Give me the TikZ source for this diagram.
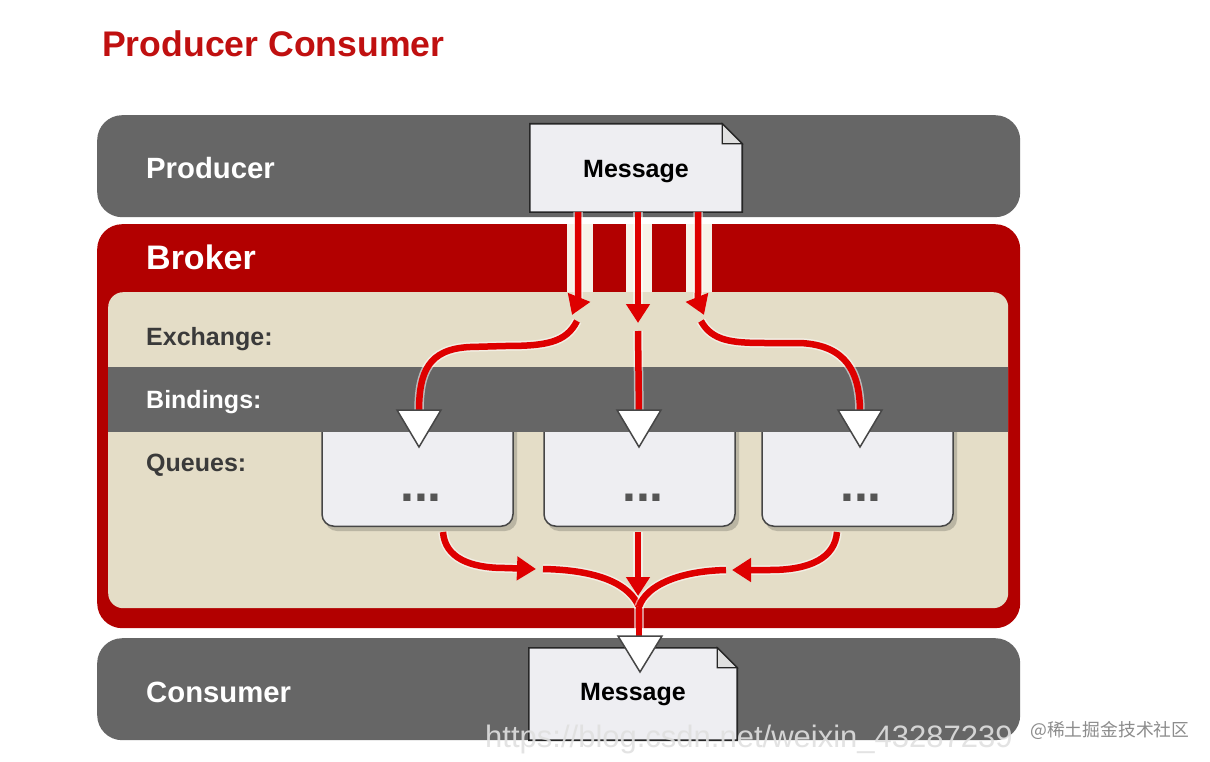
\documentclass[tikz,border=0pt]{standalone}
\usepackage{fontspec}
\setmainfont{Liberation Sans}
\newfontfamily\cjkfont{Noto Sans CJK SC}
\usetikzlibrary{arrows.meta}
\definecolor{bargray}{RGB}{102,102,102}
\definecolor{brokerred}{RGB}{178,0,0}
\definecolor{beige}{RGB}{228,221,199}
\definecolor{gaplight}{RGB}{246,242,232}
\definecolor{arrowred}{RGB}{222,0,0}
\definecolor{titlered}{RGB}{192,16,16}
\definecolor{boxfill}{RGB}{238,238,242}
\definecolor{darktext}{RGB}{58,58,58}
\definecolor{dotgray}{RGB}{85,85,85}
\definecolor{edgegray}{RGB}{70,70,70}
\tikzset{
  bar/.style={fill=bargray, draw=none, rounded corners=25pt, anchor=north west, inner sep=0pt},
  biglbl/.style={anchor=west, text=white, font=\bfseries\fontsize{29.3}{34}\selectfont, inner sep=0pt},
  lbl/.style={anchor=west, font=\bfseries\fontsize{25}{30}\selectfont, inner sep=0pt},
  msgbox/.style={draw=none, minimum width=#1, inner sep=0pt, font=\bfseries\fontsize{25}{30}\selectfont},
  msgshape/.style={fill=boxfill, draw=black!85, line width=1.6pt, line join=miter},
  fold/.style={fill=black!12, draw=black!85, line width=1.2pt},
  qbox/.style={fill=boxfill, draw=edgegray, line width=1.5pt, rounded corners=12pt, minimum width=191pt, minimum height=130pt, anchor=south, inner sep=0pt},
  qshadow/.style={fill=black, opacity=0.18, rounded corners=12pt},
  dots/.style={anchor=base, text=dotgray, font=\bfseries\fontsize{50}{50}\selectfont, inner sep=0pt},
  tri/.style={fill=white, draw=edgegray, line width=1.5pt, line join=miter},
  rline/.style={draw=arrowred, line width=6.5pt, line cap=butt,
     preaction={draw=white, draw opacity=0.55, line width=9.5pt}},
  rtip/.style={-{Triangle[width=23pt,length=19pt]}},
}
\begin{document}
\begin{tikzpicture}[x=1pt,y=-1pt]
\useasboundingbox (0,0) rectangle (1210,762);
\fill[white] (0,0) rectangle (1210,762);

% title
\node[anchor=west, text=titlered, font=\bfseries\fontsize{35.6}{40}\selectfont, inner sep=0pt] (title) at (102,44) {Producer Consumer};

% bars
\node[bar, minimum width=923pt, minimum height=102pt] (producer) at (97,115) {};
\node[bar, minimum width=923pt, minimum height=102pt] (consumer) at (97,638) {};
\node[biglbl] (prodlbl) at (146,168) {Producer};
\node[biglbl] (conslbl) at (146,692) {Consumer};

% broker
\node[fill=brokerred, rounded corners=25pt, minimum width=923pt, minimum height=404pt, anchor=north west, inner sep=0pt] (broker) at (97,224) {};
\node[anchor=west, text=white, font=\bfseries\fontsize{34}{40}\selectfont, inner sep=0pt] (brokerlbl) at (146,257) {Broker};
% light gaps in broker header
\fill[gaplight] (567,224) rectangle (593,293);
\fill[gaplight] (626,224) rectangle (652,293);
\fill[gaplight] (686,224) rectangle (712,293);
% inner beige area
\node[fill=beige, rounded corners=15pt, minimum width=900pt, minimum height=316pt, anchor=north west, inner sep=0pt] (inner) at (108,292) {};

% queue boxes (tops hidden under the bindings band)
\fill[qshadow] (325,400) rectangle (517,531);
\fill[qshadow] (547,400) rectangle (739,531);
\fill[qshadow] (765,400) rectangle (957,531);
\node[qbox] (q1) at (417.5,527) {};
\node[qbox] (q2) at (639.5,527) {};
\node[qbox] (q3) at (857.5,527) {};

% bindings band
\fill[bargray] (108,367) rectangle (1008,432);

\node[lbl, text=darktext] (exlbl) at (146,339) {Exchange:};
\node[lbl, text=white] (bilbl) at (146,402) {Bindings:};
\node[lbl, text=darktext] (qulbl) at (146,465) {Queues:};

\node[dots] (q1d) at (421,501) {...};
\node[dots] (q2d) at (643,501) {...};
\node[dots] (q3d) at (861,501) {...};

% top message
\node[msgbox=212pt, minimum height=88pt] (msgtop) at (636,168) {};
\draw[msgshape] (msgtop.north west) -- ([xshift=-20pt]msgtop.north east) -- ([yshift=-20pt]msgtop.north east) -- (msgtop.south east) -- (msgtop.south west) -- cycle;
\draw[fold] ([xshift=-20pt]msgtop.north east) -- ([xshift=-20pt,yshift=-20pt]msgtop.north east) -- ([yshift=-20pt]msgtop.north east) -- cycle;
\node[font=\bfseries\fontsize{25}{30}\selectfont, inner sep=0pt] (msgtoptxt) at (636,172) {Message};

% bottom message
\node[msgbox=208pt, minimum height=92pt] (msgbot) at (633,694) {};
\draw[msgshape] (msgbot.north west) -- ([xshift=-20pt]msgbot.north east) -- ([yshift=-20pt]msgbot.north east) -- (msgbot.south east) -- (msgbot.south west) -- cycle;
\draw[fold] ([xshift=-20pt]msgbot.north east) -- ([xshift=-20pt,yshift=-20pt]msgbot.north east) -- ([yshift=-20pt]msgbot.north east) -- cycle;
\node[font=\bfseries\fontsize{25}{30}\selectfont, inner sep=0pt] (msgbottxt) at (633,695) {Message};

% coordinates for arrows
\coordinate (s1) at (578,212);
\coordinate (s2) at (638,212);
\coordinate (s3) at (698,212);
\coordinate (e1) at (572,315);
\coordinate (e2) at (638,323);
\coordinate (e3) at (704,315);
\coordinate (b1) at (577,321);
\coordinate (b2) at (638,331);
\coordinate (b3) at (701,321);
\coordinate (t1) at (419,412);
\coordinate (t2) at (639,412);
\coordinate (t3) at (860,412);

% arrows from producer message to exchange
\draw[rline, rtip] (s1) -- (578,285) .. controls (578,300) .. (e1);
\draw[rline, rtip] (s2) -- (e2);
\draw[rline, rtip] (s3) -- (698,285) .. controls (698,300) .. (e3);

% exchange to bindings
\draw[rline] (b1) .. controls (566,343) and (545,346) .. (505,346) -- (470,347) .. controls (428,349) and (419,372) .. (t1);
\draw[rline] (b2) -- (t2);
\draw[rline] (b3) .. controls (712,341) and (732,343) .. (765,343) -- (800,343) .. controls (846,345) and (860,372) .. (t3);

% white triangles
\draw[tri] (397,410) -- (441,410) -- (419,447) -- cycle;
\draw[tri] (617,410) -- (661,410) -- (639,447) -- cycle;
\draw[tri] (838,410) -- (882,410) -- (860,447) -- cycle;

% queues to consumer
\coordinate (u1) at (443,532);
\coordinate (u2) at (638,532);
\coordinate (u3) at (837,532);
\coordinate (h1) at (536,569);
\coordinate (h2) at (638,596);
\coordinate (h3) at (732,570);
\coordinate (g1) at (543,569);
\coordinate (g3) at (726,570);
\coordinate (m) at (639,607);
\coordinate (t4) at (639,637);

\draw[rline, rtip] (u1) .. controls (445,558) and (470,568) .. (505,568) -- (h1);
\draw[rline, rtip] (u2) -- (h2);
\draw[rline, rtip] (u3) .. controls (835,558) and (810,570) .. (770,570) -- (h3);
\draw[rline] (g1) .. controls (600,570) and (630,585) .. (m);
\draw[rline] (g3) .. controls (680,571) and (646,585) .. (m);
\draw[rline] (m) -- (t4);

\draw[tri] (618,636) -- (662,636) -- (640,672) -- cycle;

% watermarks
\node[anchor=west, text=black!12, font=\fontsize{31}{34}\selectfont, inner sep=0pt, opacity=0.9] (wm1) at (485,739) {https://blog.csdn.net/weixin\_43287239};
\node[anchor=west, text=black!45, font=\cjkfont\fontsize{17.8}{22}\selectfont, inner sep=0pt] (wm2) at (1030,730) {@稀土掘金技术社区};
\end{tikzpicture}
\end{document}
